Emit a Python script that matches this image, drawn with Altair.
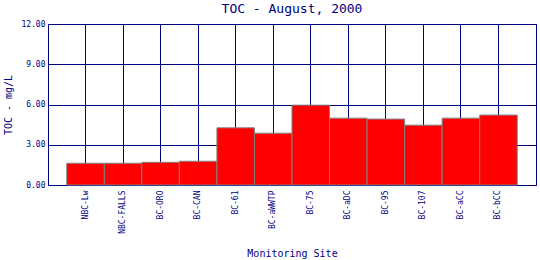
import altair as alt
import pandas as pd

sites = ["NBC-Lw", "NBC-FALLS", "BC-ORO", "BC-CAN", "BC-61", "BC-aWWTP",
         "BC-75", "BC-aDC", "BC-95", "BC-107", "BC-aCC", "BC-bCC"]
toc = [1.62, 1.62, 1.69, 1.77, 4.26, 3.86, 5.95, 4.98, 4.91, 4.46, 4.98, 5.21]
y_ticks = [0, 3, 6, 9, 12]

df = pd.DataFrame({"site": sites, "toc": toc})

NAVY = "#000080"
FONT = "DejaVu Sans Mono"

chart = alt.Chart(df).mark_bar(
    fill="#FF0000", stroke="#808080", strokeWidth=1
).encode(
    x=alt.X("site:N", sort=sites,
            scale=alt.Scale(paddingInner=0, paddingOuter=0.5),
            axis=alt.Axis(title="Monitoring Site", labelAngle=270,
                          labelAlign="right", labelBaseline="middle",
                          labelPadding=5, ticks=False, domain=False,
                          grid=True, gridColor=NAVY, gridWidth=1, gridOpacity=1,
                          bandPosition=0.5,
                          labelFont=FONT, labelFontSize=8, labelColor=NAVY,
                          titleFont=FONT, titleFontSize=10, titleColor=NAVY,
                          titleFontWeight="normal",
                          titleY=71, titleBaseline="alphabetic")),
    y=alt.Y("toc:Q", scale=alt.Scale(domain=[0, 12], nice=False),
            axis=alt.Axis(title="TOC - mg/L", values=y_ticks, format=".2f",
                          ticks=False, domain=False, labelPadding=3,
                          grid=True, gridColor=NAVY, gridWidth=1, gridOpacity=1,
                          labelFont=FONT, labelFontSize=8, labelColor=NAVY,
                          titleFont=FONT, titleFontSize=10, titleColor=NAVY,
                          titleFontWeight="normal", titleAngle=-90,
                          titleX=-40, titleY=80.5, titleAlign="center",
                          titleBaseline="middle")),
).properties(
    width=488, height=161,
    title=alt.TitleParams("TOC - August, 2000", font=FONT, fontSize=13,
                          color=NAVY, fontWeight="normal", anchor="middle",
                          offset=4),
    autosize=alt.AutoSizeParams(type="none"),
    padding={"left": 48, "top": 24, "right": 4, "bottom": 75},
    background="white",
).configure_view(stroke=NAVY, strokeWidth=1)

chart.save("out.html", embed_options={"renderer": "svg", "actions": False})
